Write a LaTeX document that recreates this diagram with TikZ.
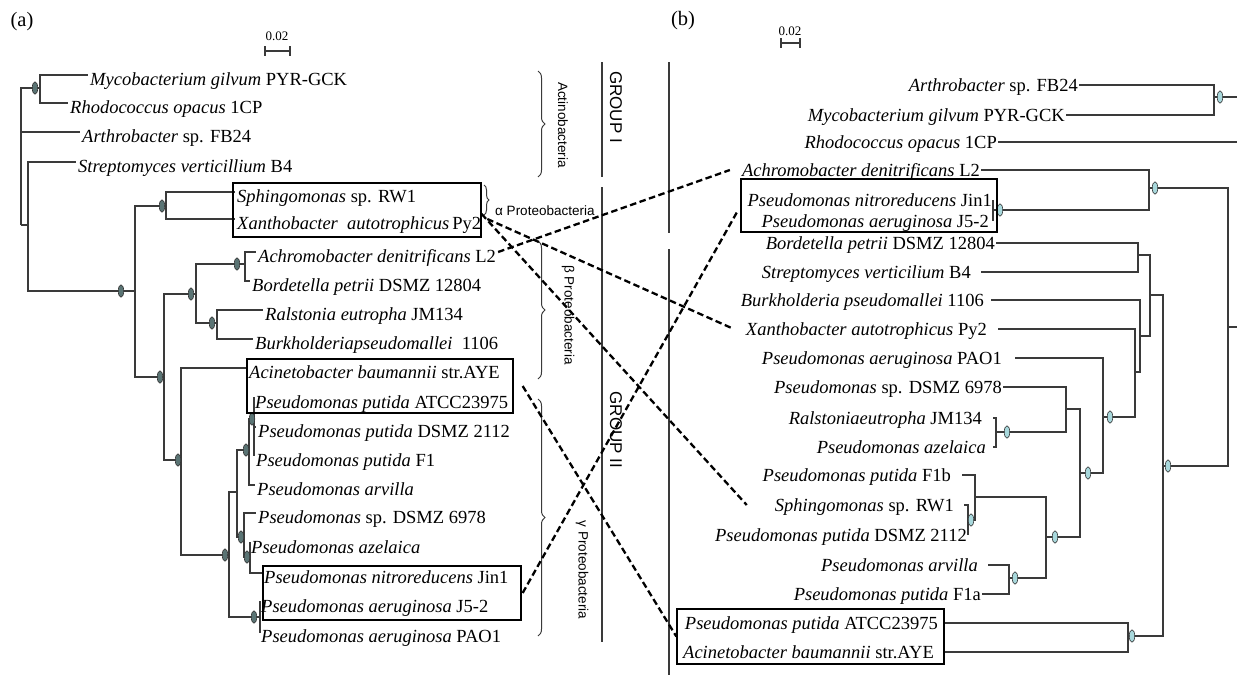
\documentclass[tikz,border=0pt]{standalone}
\usepackage{fontspec}
\setmainfont{Liberation Serif}
\newfontfamily\labfont{Liberation Sans}
\usetikzlibrary{positioning,shapes.geometric,decorations.pathreplacing}
\definecolor{treegray}{HTML}{3A3A3A}
\definecolor{ovaldark}{HTML}{5A7474}
\definecolor{ovallight}{HTML}{A8D8DC}

\begin{document}
\begin{tikzpicture}[x=1pt,y=-1pt,
    branch/.style={draw=treegray,line width=1.2pt},
    leafL/.style={anchor=base west,inner xsep=2pt,inner ysep=0pt,text height=20pt,text depth=0pt,font=\fontsize{18.5}{20}\selectfont},
    leafR/.style={anchor=base east,inner ysep=0pt,text height=12pt,text depth=0pt,font=\fontsize{18.5}{20}\selectfont},
    ovalA/.style={ellipse,draw=black!80,fill=ovaldark,line width=0.6pt,minimum width=5.5pt,minimum height=12.5pt,inner sep=0pt},
    ovalB/.style={ellipse,draw=black!80,fill=ovallight,line width=0.6pt,minimum width=5.5pt,minimum height=12.5pt,inner sep=0pt},
    pairbox/.style={draw=black,line width=1.3pt,inner sep=0pt},
    link/.style={draw=black,line width=2.3pt,dash pattern=on 6.5pt off 3.5pt},
    curly/.style={decorate,decoration={brace,amplitude=7pt},draw=treegray,line width=1pt},
    taxon/.style={font=\labfont\fontsize{13.5}{15}\selectfont,inner sep=0pt},
    grouplab/.style={font=\labfont\fontsize{17}{19}\selectfont,inner sep=0pt,rotate=-90},
    panel/.style={font=\fontsize{20.5}{22}\selectfont,inner sep=0pt},
    scalelab/.style={font=\fontsize{13}{14}\selectfont,inner sep=0pt}
  ]
\useasboundingbox (0,0) rectangle (1237,675);
\clip (0,0) rectangle (1237,675);

\node[panel] (labA) at (22,22) {(a)};
\node[panel] (labB) at (683,21) {(b)};
\node[scalelab] (scA) at (277,36) {0.02};
\node[scalelab] (scB) at (790,31) {0.02};
\draw[treegray,line width=1.2pt] (265,51) -- (290,51) (265,46) -- (265,56) (290,46) -- (290,56);
\draw[treegray,line width=1.2pt] (781,43) -- (800,43) (781,38) -- (781,48) (800,38) -- (800,48);

% tree (a)
\foreach \nm/\px/\py/\txt in {
    aMyc/88/85/{\textit{Mycobacterium gilvum} PYR-GCK},
    aRho/68/113/{\textit{Rhodococcus opacus} 1CP},
    aArt/80/142/{\textit{Arthrobacter} sp. FB24},
    aStr/76/172/{\textit{Streptomyces verticillium} B4},
    aSph/235/202/{\textit{Sphingomonas} sp. RW1},
    aXan/235/229/{\textit{Xanthobacter\ \ autotrophicus}\,Py2},
    aAch/256/262/{\textit{Achromobacter denitrificans} L2},
    aBor/250/291/{\textit{Bordetella petrii} DSMZ 12804},
    aRal/263/320/{\textit{Ralstonia eutropha} JM134},
    aBur/253/349/{\textit{Burkholderiapseudomallei}\ \ 1106},
    aAci/247/378/{\textit{Acinetobacter baumannii} str.AYE},
    aATC/253/408/{\textit{Pseudomonas putida} ATCC23975},
    aD21/256/437/{\textit{Pseudomonas putida} DSMZ 2112},
    aF1/254/466/{\textit{Pseudomonas putida} F1},
    aArv/255/495/{\textit{Pseudomonas arvilla}},
    aSpD/256/523/{\textit{Pseudomonas} sp. DSMZ 6978},
    aAze/249/553/{\textit{Pseudomonas azelaica}},
    aNit/262/583/{\textit{Pseudomonas nitroreducens} Jin1},
    aJ52/259/612/{\textit{Pseudomonas aeruginosa} J5-2},
    aPAO/259/642/{\textit{Pseudomonas aeruginosa} PAO1}}
    \node[leafL] (\nm) at (\px,\py) {\txt};

\coordinate (nRoot) at (21,225);
\coordinate (nA) at (40,88);
\coordinate (nB) at (28,225);
\coordinate (nC) at (135,291);
\coordinate (nD) at (166,206);
\coordinate (nE) at (164,377);
\coordinate (nF) at (196,294);
\coordinate (nF1) at (245,264);
\coordinate (nF2) at (217,323);
\coordinate (nG) at (181,460);
\coordinate (nH) at (229,555);
\coordinate (nI) at (237,492);
\coordinate (nJ) at (249,450);
\coordinate (nJ1) at (254,419);
\coordinate (nK) at (244,537);
\coordinate (nM) at (250,557);
\coordinate (nL) at (260,617);

\foreach \p/\c in {nRoot/nA,nRoot/aArt.west,nRoot/nB,nB/aStr.west,nB/nC,
    nA/aMyc.west,nA/aRho.west,nC/nD,nC/nE,nD/aSph.west,nD/aXan.west,
    nE/nF,nE/nG,nF/nF1,nF/nF2,nF1/aAch.west,nF1/aBor.west,nF2/aRal.west,nF2/aBur.west,
    nG/aAci.west,nG/nH,nH/nI,nH/nL,nI/nJ,nI/nK,nJ/nJ1,nJ/aArv.west,
    nJ1/aATC.west,nJ1/aD21.west,nJ1/aF1.west,nK/aSpD.west,nK/nM,
    nM/aAze.west,nM/aNit.west,nL/aJ52.west,nL/aPAO.west}
    \draw[branch] (\p) |- (\c);

\foreach \n/\s in {nA/5,nC/14,nD/4,nE/4,nF/5,nF1/8,nF2/5,nG/3,nH/4,nJ/3,nJ1/2,nK/3,nM/3,nL/6}
    \node[ovalA] (o\n) at ([xshift=-\s pt]\n) {};

\node[pairbox,minimum width=248pt,minimum height=54pt] (aBoxSX) at (357,210) {};
\node[pairbox,minimum width=266pt,minimum height=54pt] (aBoxAP) at (380,386) {};
\node[pairbox,minimum width=258pt,minimum height=54pt] (aBoxNJ) at (392,593) {};

% taxa and groups
\draw[curly] (538,71) -- (538,177);
\draw[curly,decoration={amplitude=5pt}] (484,185) -- (484,215);
\draw[curly] (538,241) -- (538,379);
\draw[curly] (538,399) -- (538,636);
\node[taxon,rotate=-90] (tActi) at (563,125) {Actinobacteria};
\node[taxon,anchor=west] (tAlpha) at (495,211) {α Proteobacteria};
\node[taxon,rotate=-90] (tBeta) at (568,315) {β Proteobacteria};
\node[taxon,rotate=-90] (tGamma) at (582,570) {γ Proteobacteria};
\draw[treegray,line width=1.5pt] (602,62) -- (602,177) (602,187) -- (602,642);
\node[grouplab] (gOne) at (616,107) {GROUP I};
\node[grouplab] (gTwo) at (616,430) {GROUP II};
\draw[treegray,line width=1.2pt] (669,62) -- (669,233) (669,249) -- (669,675);

% tree (b)
\foreach \nm/\px/\py/\g/\txt in {
    bArt/1079/91/1/{\textit{Arthrobacter} sp. FB24},
    bMyc/1066/121/1/{\textit{Mycobacterium gilvum} PYR-GCK},
    bRho/998/148/1/{\textit{Rhodococcus opacus} 1CP},
    bAch/981/176/1/{\textit{Achromobacter denitrificans} L2},
    bNit/993/206/1/{\textit{Pseudomonas nitroreducens} Jin1},
    bJ52/993/227/4/{\textit{Pseudomonas aeruginosa} J5-2},
    bBor/996/249/1/{\textit{Bordetella petrii} DSMZ 12804},
    bStr/981/278/10/{\textit{Streptomyces verticilium} B4},
    bBur/991/306/7/{\textit{Burkholderia pseudomallei} 1106},
    bXan/998/335/11/{\textit{Xanthobacter autotrophicus} Py2},
    bPAO/1015/364/13/{\textit{Pseudomonas aeruginosa} PAO1},
    bSpD/1003/393/1/{\textit{Pseudomonas} sp. DSMZ 6978},
    bRal/993/424/11/{\textit{Ralstoniaeutropha} JM134},
    bAze/993/453/7/{\textit{Pseudomonas azelaica}},
    bF1b/962/481/11/{\textit{Pseudomonas putida} F1b},
    bRW1/964/511/10/{\textit{Sphingomonas} sp. RW1},
    bD21/968/541/1/{\textit{Pseudomonas putida} DSMZ 2112},
    bArv/988/571/10/{\textit{Pseudomonas arvilla}},
    bF1a/982/600/1/{\textit{Pseudomonas putida} F1a},
    bATC/943/629/5/{\textit{Pseudomonas putida} ATCC23975},
    bAci/945/658/11/{\textit{Acinetobacter baumannii} str.AYE}}
    \node[leafR,inner xsep=\g pt] (\nm) at (\px,\py) {\txt};

\coordinate (rRoot) at (1250,327);
\coordinate (rA) at (1214,97);
\coordinate (rB) at (1228,327);
\coordinate (rC) at (1149,188);
\coordinate (rC1) at (993,210);
\coordinate (rD) at (1163,466);
\coordinate (rE) at (1150,295);
\coordinate (rE1) at (1138,255);
\coordinate (rE2) at (1140,336);
\coordinate (rG) at (1135,372);
\coordinate (rH) at (1103,417);
\coordinate (rI) at (1080,473);
\coordinate (rJ) at (1066,409);
\coordinate (rJ1) at (996,432);
\coordinate (rK) at (1046,537);
\coordinate (rK1) at (975,497);
\coordinate (rK3) at (968,520);
\coordinate (rK2) at (1009,578);
\coordinate (rF) at (1128,636);

\foreach \p/\c in {rRoot/rA,rRoot/bRho.east,rRoot/rB,rA/bArt.east,rA/bMyc.east,
    rB/rC,rB/rD,rC/bAch.east,rC/rC1,rC1/bNit.east,rC1/bJ52.east,
    rD/rE,rD/rF,rE/rE1,rE/rE2,rE1/bBor.east,rE1/bStr.east,rE2/bBur.east,rE2/rG,
    rG/bXan.east,rG/rH,rH/bPAO.east,rH/rI,rI/rJ,rI/rK,rJ/bSpD.east,rJ/rJ1,
    rJ1/bRal.east,rJ1/bAze.east,rK/rK1,rK/rK2,rK1/bF1b.east,rK1/rK3,
    rK3/bRW1.east,rK3/bD21.east,rK2/bArv.east,rK2/bF1a.east,rF/bATC.east,rF/bAci.east}
    \draw[branch] (\p) |- (\c);

\foreach \n/\s in {rA/6,rC/6,rC1/7,rD/5,rH/7,rI/8,rJ1/11,rK/9,rK3/3,rK2/6,rF/4}
    \node[ovalB] (o\n) at ([xshift=\s pt]\n) {};

\node[pairbox,minimum width=256pt,minimum height=53pt] (bBoxNJ) at (869,205.5) {};
\node[pairbox,minimum width=267pt,minimum height=55pt] (bBoxAA) at (810.5,636.5) {};

% cross links
\draw[link] (aAch.east) -- ([xshift=-11pt]bAch.west);
\draw[link] ([xshift=4pt]aXan.east) -- ([xshift=-1pt]bXan.west);
\draw[link] ([yshift=-4pt]aBoxSX.east) -- ([xshift=-18pt]bRW1.west);
\draw[link] ([xshift=9pt]aBoxAP.east) -- (bBoxAA.west);
\draw[link] ([xshift=1pt]aBoxNJ.east) -- ([xshift=-3pt,yshift=-6pt]bBoxNJ.west);
\end{tikzpicture}
\end{document}
